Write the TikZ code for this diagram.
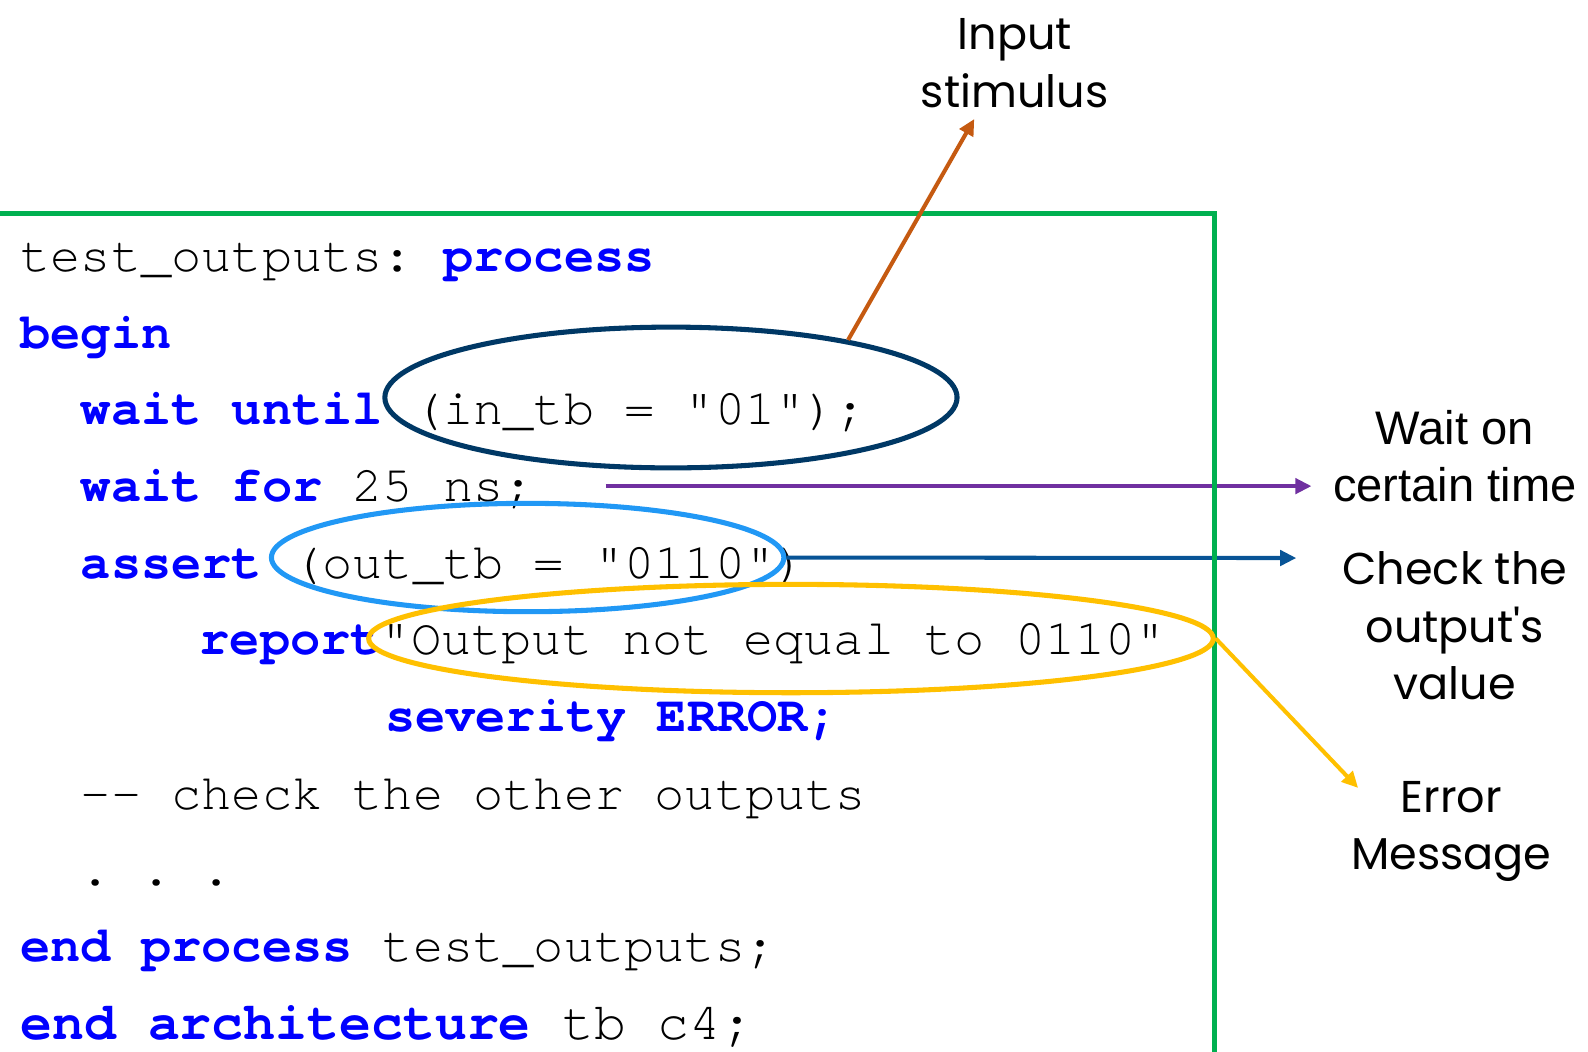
\documentclass[tikz,border=0pt]{standalone}
\usepackage{fontspec}
\setmonofont{TeX Gyre Cursor}
\newfontfamily\notefont{Poppins}
\newfontfamily\plainfont{Liberation Sans}
\usetikzlibrary{arrows.meta,shapes.geometric}

\definecolor{kwblue}{RGB}{0,0,255}
\definecolor{framegreen}{RGB}{0,176,80}
\definecolor{navyring}{RGB}{0,56,101}
\definecolor{skyring}{RGB}{33,152,245}
\definecolor{goldring}{RGB}{255,192,0}
\definecolor{rust}{RGB}{197,90,17}
\definecolor{violet}{RGB}{112,48,160}
\definecolor{steel}{RGB}{8,84,150}

% VHDL keyword
\newcommand\kw[1]{\textbf{\color{kwblue}#1}}

\begin{document}
\begin{tikzpicture}[x=1pt,y=-1pt,
  code/.style={anchor=base west, inner sep=0pt, font=\ttfamily\fontsize{49.7}{50}\selectfont},
  bigcode/.style={code, font=\ttfamily\fontsize{52.5}{53}\selectfont},
  ring/.style={ellipse, draw, line width=5pt, inner sep=0pt, minimum width=#1},
  note/.style={anchor=base, inner sep=0pt, align=center, font=\notefont\fontsize{44}{57}\selectfont},
  plainnote/.style={anchor=base, inner sep=0pt, align=center, font=\plainfont\fontsize{46.5}{56}\selectfont},
  pointer/.style={line width=4pt, -{Triangle[length=16pt,width=15pt]}},
  frame/.style={draw=framegreen, line width=5pt}]
\useasboundingbox (0,0) rectangle (1568,1038);

% code listing, one node per line (column width 29.8pt)
\node[code] (l1)  at (20,268)    {test\_outputs: \kw{process}};
\node[code] (l2)  at (20,344)    {\kw{begin}};
\node[code] (l3)  at (79.6,419)  {\kw{wait until} (in\_tb = "01");};
\node[code] (l4)  at (79.6,495)  {\kw{wait for} 25 ns;};
\node[code] (l5)  at (79.6,571)  {\kw{assert} (out\_tb = "0110")};
\node[code] (l6)  at (197,646)   {\kw{report}"Output not equal to 0110"};
\node[code] (l7)  at (380,722)   {\kw{severity ERROR;}};
\node[code] (l8)  at (79.6,799)  {-{}- check the other outputs};
\node[code] (l9)  at (79.6,874)  {.~.~.};
\node[code] (l10) at (20,949)    {\kw{end process} test\_outputs;};
\node[bigcode] (l11) at (20,1026) {\kw{end architecture}};
\node[bigcode] (l11b) at (555,1026) {tb c4;};

% side notes (anchored at the baseline of their last line)
\node[note] (stim) at (1002,105.8) {Input\\stimulus};
\node[plainnote] (waitnote) at (1436.5,495) {Wait on\\certain time};
\node[note] (checknote) at (1436.5,691) {Check the\\output's\\value};
\node[note] (errnote) at (1433,859) {Error\\Message};

% arrow end points beside the notes
\coordinate (nsend) at (598,480);
\coordinate (stimtip) at (962,117.5);
\coordinate (waittip) at (1295,480);
\coordinate (checktip) at (1280,551);
\coordinate (errtip) at (1341,778);

\draw[pointer, violet] (nsend) -- (waittip);

% highlighted expressions
\node[ring=565pt, draw=navyring, minimum height=139pt] (ein) at (662.5,392.5) {};
\node[ring=506pt, draw=skyring, minimum height=107pt] (eout) at (521,550.5) {};
\draw[pointer, steel] (eout.east) -- (checktip);

% process frame
\draw[frame] (0,211) -- (1199,211) -- (1199,1045);

\node[ring=834pt, draw=goldring, minimum height=107pt] (erep) at (781,630.5) {};

\draw[pointer, rust] (ein.18) -- (stimtip);
\draw[pointer, goldring] (erep.-0.8) -- (errtip);
\end{tikzpicture}
\end{document}
